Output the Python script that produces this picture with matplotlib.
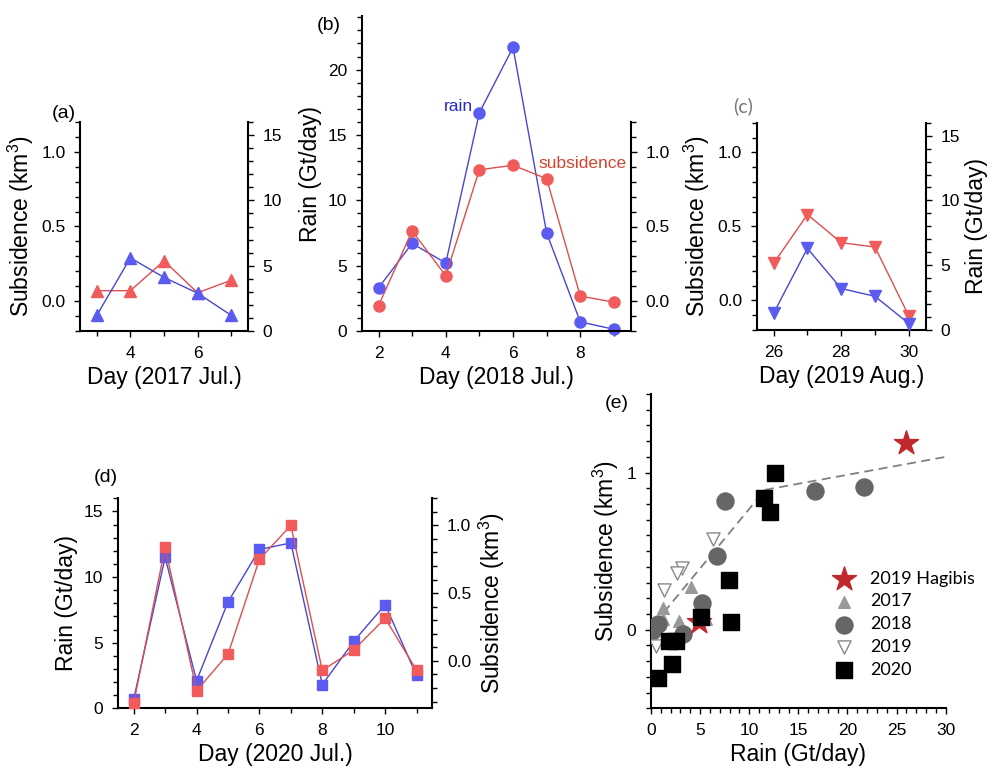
import numpy as np
import matplotlib
matplotlib.use("Agg")
import matplotlib.pyplot as plt
from matplotlib.ticker import MultipleLocator

plt.rcParams['font.family'] = ['Liberation Sans', 'DejaVu Sans']
plt.rcParams['mathtext.fontset'] = 'custom'
plt.rcParams['mathtext.rm'] = 'Liberation Sans'
plt.rcParams['mathtext.it'] = 'Liberation Sans'

# ---- data ----
# (a) 2017 Jul.
days_a = [3, 4, 5, 6, 7]
rain_a = [1.2, 5.6, 4.1, 2.9, 1.2]
sub_a = [0.07, 0.07, 0.27, 0.056, 0.14]

# (b) 2018 Jul.
days_b = [2, 3, 4, 5, 6, 7, 8, 9]
rain_b = [3.3, 6.7, 5.2, 16.7, 21.7, 7.5, 0.7, 0.13]
sub_b = [-0.03, 0.47, 0.17, 0.88, 0.91, 0.82, 0.034, -0.007]

# (c) 2019 Aug.
days_c = [26, 27, 28, 29, 30]
rain_c = [1.3, 6.3, 3.2, 2.6, 0.5]
sub_c = [0.25, 0.58, 0.39, 0.36, -0.105]

# (d) 2020 Jul.
days_d = [2, 3, 4, 5, 6, 7, 8, 9, 10, 11]
rain_d = [0.7, 11.5, 2.1, 8.1, 12.1, 12.6, 1.8, 5.1, 7.9, 2.5]
sub_d = [-0.31, 0.84, -0.22, 0.05, 0.75, 1.0, -0.07, 0.08, 0.315, -0.07]

# (e) Hagibis events and piecewise fit
hagibis_rain = [26.0, 4.9]
hagibis_sub = [1.19, 0.05]
fit_rain = [1.3, 11.6, 30.0]
fit_sub = [0.11, 0.89, 1.10]

BLUE_MK, BLUE_LN = '#5b5bf2', '#4747d0'
RED_MK, RED_LN = '#f25b5b', '#db4f4f'
SUB_LABEL = 'Subsidence (km$^3$)'
RAIN_LABEL = 'Rain (Gt/day)'

W, H = 993, 769
fig = plt.figure(figsize=(W / 100, H / 100), dpi=100)


def box(left, top, right, bottom):
    return [left / W, 1 - bottom / H, (right - left) / W, (bottom - top) / H]


def dress(ax, sides):
    for s in ['top', 'bottom', 'left', 'right']:
        ax.spines[s].set_visible(s in sides)
        ax.spines[s].set_linewidth(1.5)
    ax.tick_params(which='both', direction='out', width=1, labelsize=12.5, pad=6)
    ax.tick_params(which='major', length=4.5)
    ax.tick_params(which='minor', length=3.5)


def line(ax, x, y, mk, ms, color_mk, color_ln):
    ax.plot(x, y, '-', color=color_ln, lw=1.0, marker=mk, ms=ms,
            mfc=color_mk, mec=color_mk, clip_on=False)


# ---- (a) ----
ax = fig.add_axes(box(80, 122, 248, 331))
tw = ax.twinx()
line(ax, days_a, sub_a, '^', 9, RED_MK, RED_LN)
line(tw, days_a, rain_a, '^', 9, BLUE_MK, BLUE_LN)
ax.set_xlim(2.5, 7.5)
ax.set_ylim(-0.2, 1.2)
tw.set_ylim(0, 16)
ax.xaxis.set_major_locator(MultipleLocator(2))
ax.xaxis.set_minor_locator(MultipleLocator(1))
ax.yaxis.set_major_locator(MultipleLocator(0.5))
ax.yaxis.set_minor_locator(MultipleLocator(0.1))
ax.yaxis.set_major_formatter('{x:.1f}')
tw.yaxis.set_major_locator(MultipleLocator(5))
tw.yaxis.set_minor_locator(MultipleLocator(1))
dress(ax, ['left', 'bottom'])
dress(tw, ['right'])
ax.set_ylabel(SUB_LABEL, fontsize=16.5)
ax.set_xlabel('Day (2017 Jul.)', fontsize=16.5)
fig.text(52 / W, 1 - 113 / H, '(a)', fontsize=14, va='center')

# ---- (b) ----
ax = fig.add_axes(box(361.7, 16, 630.7, 331))
tw = ax.twinx()
line(ax, days_b, rain_b, 'o', 8, BLUE_MK, BLUE_LN)
line(tw, days_b, sub_b, 'o', 8, RED_MK, RED_LN)
ax.set_xlim(1.5, 9.5)
ax.set_ylim(0, 24.1)
tw.set_ylim(-0.2, -0.2 + 1.4 * 315 / 209)
ax.xaxis.set_major_locator(MultipleLocator(2))
ax.xaxis.set_minor_locator(MultipleLocator(1))
ax.yaxis.set_major_locator(MultipleLocator(5))
ax.yaxis.set_minor_locator(MultipleLocator(1))
tw.set_yticks([0.0, 0.5, 1.0])
tw.set_yticks(np.arange(-0.2, 1.21, 0.1), minor=True)
tw.yaxis.set_major_formatter('{x:.1f}')
dress(ax, ['left', 'bottom'])
dress(tw, ['right'])
tw.spines['right'].set_bounds(-0.2, 1.2)
ax.set_ylabel(RAIN_LABEL, fontsize=16.5)
ax.set_xlabel('Day (2018 Jul.)', fontsize=16.5)
ax.text(4.8, 17.2, 'rain', color='#2a2ac8', fontsize=12.5, ha='right', va='center')
ax.text(6.75, 12.85, 'subsidence', color='#d0452e', fontsize=12.5, ha='left', va='center')
fig.text(317 / W, 1 - 25 / H, '(b)', fontsize=14, va='center')

# ---- (c) ----
ax = fig.add_axes(box(756.7, 122.7, 925.7, 330))
tw = ax.twinx()
line(ax, days_c, sub_c, 'v', 9, RED_MK, RED_LN)
line(tw, days_c, rain_c, 'v', 9, BLUE_MK, BLUE_LN)
ax.set_xlim(25.5, 30.5)
ax.set_ylim(-0.2, 1.2)
tw.set_ylim(0, 16)
ax.xaxis.set_major_locator(MultipleLocator(2))
ax.xaxis.set_minor_locator(MultipleLocator(1))
ax.yaxis.set_major_locator(MultipleLocator(0.5))
ax.yaxis.set_minor_locator(MultipleLocator(0.1))
ax.yaxis.set_major_formatter('{x:.1f}')
tw.yaxis.set_major_locator(MultipleLocator(5))
tw.yaxis.set_minor_locator(MultipleLocator(1))
dress(ax, ['left', 'bottom'])
dress(tw, ['right'])
ax.set_ylabel(SUB_LABEL, fontsize=16.5)
tw.set_ylabel(RAIN_LABEL, fontsize=16.5)
ax.set_xlabel('Day (2019 Aug.)', fontsize=16.5)
fig.text(733 / W, 1 - 106 / H, '(c)', fontsize=14, va='center', color='#777777',
         family=['Lato', 'DejaVu Sans'])

# ---- (d) ----
ax = fig.add_axes(box(118, 498.3, 432.3, 708.3))
tw = ax.twinx()
line(ax, days_d, rain_d, 's', 7.5, BLUE_MK, BLUE_LN)
line(tw, days_d, sub_d, 's', 7.5, RED_MK, RED_LN)
ax.set_xlim(1.5, 11.5)
ax.set_ylim(0, 16)
tw.set_ylim(-0.35, 1.2)
ax.xaxis.set_major_locator(MultipleLocator(2))
ax.xaxis.set_minor_locator(MultipleLocator(1))
ax.yaxis.set_major_locator(MultipleLocator(5))
ax.yaxis.set_minor_locator(MultipleLocator(1))
tw.yaxis.set_major_locator(MultipleLocator(0.5))
tw.yaxis.set_minor_locator(MultipleLocator(0.1))
tw.yaxis.set_major_formatter('{x:.1f}')
dress(ax, ['left', 'bottom'])
dress(tw, ['right'])
ax.set_ylabel(RAIN_LABEL, fontsize=16.5)
tw.set_ylabel(SUB_LABEL, fontsize=16.5)
ax.set_xlabel('Day (2020 Jul.)', fontsize=16.5)
fig.text(94 / W, 1 - 478 / H, '(d)', fontsize=14, va='center')

# ---- (e) ----
ax = fig.add_axes(box(651, 394, 945.7, 708.3))
ax.plot(fit_rain, fit_sub, '--', color='#808080', lw=1.3, dashes=(5, 3))
h17 = ax.scatter(rain_a, sub_a, marker='^', s=70, color='#999999', label='2017', zorder=3)
h18 = ax.scatter(rain_b, sub_b, marker='o', s=150, color='#666666', label='2018', zorder=3)
h19 = ax.scatter(rain_c, sub_c, marker='v', s=90, facecolor='white', edgecolor='#888888',
                 lw=1, label='2019', zorder=3)
hst = ax.scatter(hagibis_rain, hagibis_sub, marker='*', s=330, color='#c0282d',
                 label='2019 Hagibis', zorder=3)
h20 = ax.scatter(rain_d, sub_d, marker='s', s=120, color='black', label='2020', zorder=4)
ax.set_xlim(0, 30)
ax.set_ylim(-0.5, 1.5)
ax.xaxis.set_major_locator(MultipleLocator(5))
ax.xaxis.set_minor_locator(MultipleLocator(1))
ax.set_yticks([0, 1])
ax.yaxis.set_minor_locator(MultipleLocator(0.1))
dress(ax, ['left', 'bottom'])
ax.set_ylabel(SUB_LABEL, fontsize=16.5)
ax.set_xlabel(RAIN_LABEL, fontsize=16.5)
ax.legend(handles=[hst, h17, h18, h19, h20], loc='upper left',
          bbox_to_anchor=(0.54, 0.49), frameon=False, labelspacing=0.38,
          handletextpad=0.4, prop={'family': 'Lato', 'size': 13})
fig.text(605 / W, 1 - 403 / H, '(e)', fontsize=14, va='center')

fig.savefig('out.png', dpi=100)
